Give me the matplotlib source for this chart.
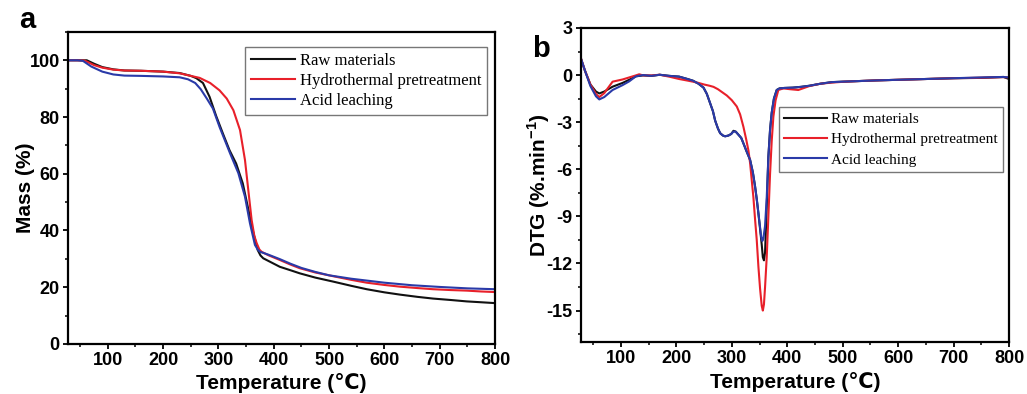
import matplotlib
matplotlib.use("Agg")
import matplotlib.pyplot as plt
from matplotlib.ticker import MultipleLocator

plt.rcParams['font.family'] = ['Liberation Sans', 'DejaVu Sans']
plt.rcParams['mathtext.fontset'] = 'custom'
plt.rcParams['mathtext.bf'] = 'Liberation Sans:bold'
plt.rcParams['mathtext.rm'] = 'Liberation Sans'
plt.rcParams['axes.unicode_minus'] = False

labels = ["Raw materials", "Hydrothermal pretreatment", "Acid leaching"]
colors = ["#111111", "#e8202a", "#2a3aa8"]

# ---- TGA (mass %) ----
t_raw = [28, 45, 62, 75, 90, 110, 130, 160, 200, 230, 250, 260, 272, 284, 296, 308, 320,
         332, 344, 353, 362, 371, 376, 381, 395, 411, 430, 447, 475, 507, 540, 568, 600,
         628, 660, 688, 720, 749, 775, 800]
m_raw = [100, 100, 100, 98.8, 97.6, 96.8, 96.4, 96.3, 96.0, 95.5, 94.5, 93.7, 92.0, 87.1,
         80.3, 74.2, 68.3, 63.6, 56.6, 48.4, 40.1, 33.1, 31.2, 30.2, 28.8, 27.2, 26.0,
         24.9, 23.4, 22.0, 20.5, 19.3, 18.2, 17.4, 16.6, 16.0, 15.5, 15.0, 14.7, 14.4]

t_hyd = [28, 45, 58, 75, 90, 110, 130, 160, 200, 230, 250, 266, 285, 302, 315, 327, 339,
         348, 354, 360, 365, 369, 374, 378, 390, 411, 430, 447, 475, 507, 540, 568, 600,
         628, 660, 688, 720, 749, 775, 800]
m_hyd = [100, 100, 99.9, 98.3, 97.4, 96.7, 96.4, 96.3, 96.0, 95.4, 94.5, 93.8, 92.0,
         89.4, 86.5, 82.4, 75.4, 64.8, 54.2, 43.7, 38.0, 35.6, 33.3, 32.5, 31.3, 29.6,
         28.0, 26.7, 25.2, 23.9, 22.6, 21.6, 20.8, 20.2, 19.7, 19.3, 19.0, 18.8, 18.5, 18.3]

t_acd = [28, 45, 55, 70, 90, 110, 130, 160, 200, 230, 245, 258, 268, 279, 290, 302, 312,
         321, 336, 348, 357, 366, 371, 375, 390, 411, 430, 450, 475, 500, 540, 600, 650,
         700, 750, 800]
m_acd = [100, 100, 99.8, 97.8, 96.0, 95.0, 94.6, 94.5, 94.3, 94.0, 93.3, 92.0, 89.8,
         86.5, 83.0, 76.5, 71.6, 67.2, 60.2, 51.9, 42.5, 34.9, 33.3, 32.5, 31.5, 29.9,
         28.3, 26.8, 25.4, 24.2, 23.0, 21.6, 20.7, 20.1, 19.6, 19.3]

# ---- DTG (%.min^-1) ----
t_raw_d = [28, 35, 45, 55, 61, 70, 85, 103, 115, 127, 140, 155, 170, 187, 205, 220, 230,
           240, 249, 255, 261, 266, 270, 275, 279, 284, 288, 294, 299, 303, 307, 312, 317,
           321, 326, 333, 338, 342, 345, 348, 351, 354, 356, 358, 360, 363, 366, 369, 372,
           376, 381, 386, 395, 410, 425, 440, 460, 480, 500, 530, 560, 600, 650, 700, 750,
           790, 800]
d_raw = [1.05, 0.3, -0.6, -1.05, -1.17, -1.05, -0.74, -0.5, -0.3, -0.08, -0.02, -0.05,
         0.02, -0.05, -0.1, -0.25, -0.36, -0.55, -0.8, -1.2, -1.8, -2.3, -2.9, -3.4, -3.7,
         -3.85, -3.9, -3.85, -3.75, -3.55, -3.6, -3.8, -4.0, -4.35, -4.8, -5.4, -6.2, -7.1,
         -7.9, -8.8, -9.8, -10.8, -11.6, -11.8, -11.3, -8.4, -5.2, -3.5, -2.4, -1.5, -0.95,
         -0.85, -0.82, -0.8, -0.75, -0.68, -0.55, -0.45, -0.42, -0.38, -0.34, -0.3, -0.25,
         -0.2, -0.18, -0.12, -0.25]

t_hyd_d = [28, 35, 45, 55, 61, 70, 85, 103, 115, 127, 133, 140, 155, 170, 187, 205, 220,
           230, 240, 250, 260, 267, 275, 283, 291, 300, 309, 315, 321, 326, 330, 333, 336,
           339, 342, 345, 348, 351, 354, 356, 358, 360, 363, 366, 369, 372, 375, 379, 384,
           393, 405, 420, 440, 460, 480, 500, 530, 560, 600, 650, 700, 750, 790, 800]
d_hyd = [1.05, 0.3, -0.6, -1.2, -1.4, -1.15, -0.42, -0.28, -0.15, -0.02, 0.05, -0.02,
         -0.02, 0.02, -0.1, -0.25, -0.35, -0.42, -0.5, -0.6, -0.68, -0.75, -0.9, -1.1,
         -1.3, -1.6, -2.0, -2.5, -3.3, -4.1, -4.8, -5.6, -6.7, -7.8, -9.2, -10.5, -12.2,
         -13.6, -14.7, -15.0, -14.6, -13.5, -11.6, -9.0, -6.3, -4.2, -2.65, -1.6, -0.95,
         -0.85, -0.9, -0.95, -0.7, -0.55, -0.48, -0.43, -0.38, -0.34, -0.3, -0.25, -0.2,
         -0.17, -0.13, -0.15]

t_acd_d = [28, 35, 45, 55, 61, 70, 85, 103, 115, 127, 140, 155, 170, 187, 205, 220, 230,
           240, 249, 255, 261, 266, 270, 275, 279, 284, 288, 294, 299, 303, 307, 312, 317,
           321, 326, 333, 338, 342, 345, 348, 351, 353, 355, 357, 360, 363, 366, 369, 372,
           376, 381, 386, 395, 410, 425, 440, 460, 480, 500, 530, 560, 600, 650, 700, 750,
           790, 800]
d_acd = [1.05, 0.3, -0.7, -1.35, -1.55, -1.4, -0.95, -0.64, -0.4, -0.08, 0.0, -0.05,
         0.02, -0.05, -0.1, -0.25, -0.36, -0.55, -0.8, -1.2, -1.8, -2.3, -2.9, -3.4, -3.7,
         -3.85, -3.9, -3.85, -3.75, -3.6, -3.6, -3.8, -4.0, -4.35, -4.8, -5.4, -6.2, -7.1,
         -7.9, -8.8, -9.7, -10.3, -10.57, -10.4, -9.6, -7.8, -5.2, -3.5, -2.4, -1.5, -0.95,
         -0.85, -0.82, -0.8, -0.75, -0.68, -0.55, -0.45, -0.42, -0.38, -0.34, -0.3, -0.25,
         -0.2, -0.15, -0.12, -0.15]

fig = plt.figure(figsize=(10.27, 3.94), dpi=100)
ax_a = fig.add_axes([0.0662, 0.127, 0.4158, 0.792])
ax_b = fig.add_axes([0.5657, 0.132, 0.4168, 0.797])


def style_axes(ax):
    for s in ax.spines.values():
        s.set_linewidth(1.6)
    ax.tick_params(which='major', length=3.8, width=1.3, direction='out', labelsize=13,
                   pad=2.2, top=False, right=False)
    ax.tick_params(which='minor', length=2.2, width=1.1, direction='out', top=False,
                   right=False)
    for lbl in ax.get_xticklabels() + ax.get_yticklabels():
        lbl.set_fontweight('bold')
    ax.xaxis.set_major_locator(MultipleLocator(100))
    ax.xaxis.set_minor_locator(MultipleLocator(50))


def add_legend(ax, anchor, size, hlen, spacing):
    leg = ax.legend(loc='upper right', bbox_to_anchor=anchor, frameon=True,
                    fancybox=False, edgecolor='#777777', framealpha=1,
                    prop=dict(family='Liberation Serif', size=size), handlelength=hlen,
                    handletextpad=0.25, borderpad=0.35, labelspacing=spacing,
                    borderaxespad=0)
    leg.get_frame().set_linewidth(1.0)
    return leg


# Panel a: TGA
for t, m, c, lb in zip([t_raw, t_hyd, t_acd], [m_raw, m_hyd, m_acd], colors, labels):
    ax_a.plot(t, m, color=c, lw=1.5, label=lb)
ax_a.set_xlim(28, 800)
ax_a.set_ylim(0, 110)
ax_a.yaxis.set_major_locator(MultipleLocator(20))
ax_a.yaxis.set_minor_locator(MultipleLocator(10))
style_axes(ax_a)
ax_a.set_ylabel("Mass (%)", fontsize=15, fontweight='bold', labelpad=-4)
ax_a.set_xlabel("Temperature (℃)", fontsize=15, fontweight='bold', labelpad=3)
add_legend(ax_a, (0.981, 0.952), 12, 2.65, 0.24)
fig.text(0.019, 0.93, "a", fontsize=21, fontweight='bold')

# Panel b: DTG
for t, d, c, lb in zip([t_raw_d, t_hyd_d, t_acd_d], [d_raw, d_hyd, d_acd], colors, labels):
    ax_b.plot(t, d, color=c, lw=1.5, label=lb)
ax_b.set_xlim(28, 800)
ax_b.set_ylim(-17, 3)
ax_b.set_yticks(range(-15, 4, 3))
ax_b.yaxis.set_minor_locator(MultipleLocator(1.5))
style_axes(ax_b)
ax_b.set_ylabel(r"DTG (%.min$^{\mathbf{-1}}$)", fontsize=15, fontweight='bold',
                labelpad=-4)
ax_b.set_xlabel("Temperature (℃)", fontsize=15, fontweight='bold', labelpad=3)
add_legend(ax_b, (0.986, 0.748), 11, 2.8, 0.43)
fig.text(0.518, 0.855, "b", fontsize=21, fontweight='bold')

fig.savefig("out.png", dpi=100)
